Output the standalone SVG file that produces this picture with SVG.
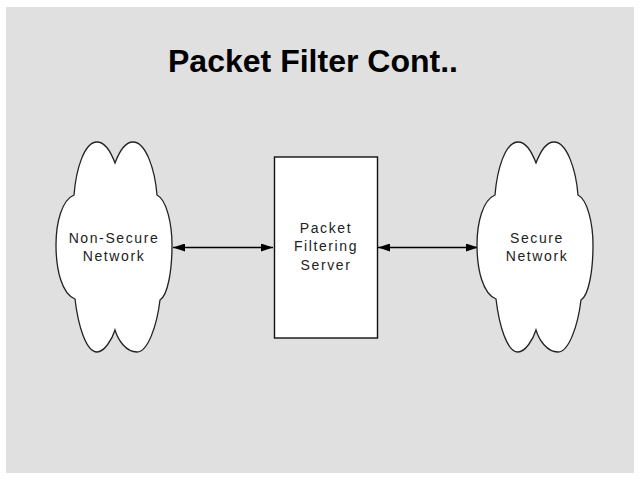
<svg xmlns="http://www.w3.org/2000/svg" width="640" height="480" viewBox="0 0 640 480">
<defs>
<style>
.lbl{font-family:"Liberation Sans",Arial,sans-serif;font-size:14px;letter-spacing:1.6px;fill:#222;text-anchor:middle}
.cloud{fill:#fff;stroke:#222;stroke-width:1.3}
.conn{stroke:#000;stroke-width:1.3;fill:none}
</style>
<marker id="ah" viewBox="0 0 12 8" refX="12" refY="4" markerWidth="12" markerHeight="8" markerUnits="userSpaceOnUse" orient="auto-start-reverse">
<path d="M0,0 L12,4 L0,8 Z" fill="#000"/>
</marker>
<path id="cloudShape" d="M74,195 C76,170 84,142 97,142 C106,142 112,155 115,163 C118,155 124,142 133,142 C146,142 155,170 157,195 C167,200 172,225 172,245 C172,270 168,295 160,300 C157,325 148,352 137,352 C126,352 118,340 115,330 C112,340 104,352 97,352 C86,352 78,325 75,299 C62,294 56,270 56,245 C56,222 62,200 74,195 Z"/>
</defs>
<rect x="0" y="0" width="640" height="480" fill="#fff"/>
<rect x="6" y="7" width="628" height="466" fill="#e0e0e0"/>
<text x="168" y="72" font-family="'Liberation Sans',Arial,sans-serif" font-weight="bold" font-size="32" fill="#000" textLength="290" lengthAdjust="spacingAndGlyphs">Packet Filter Cont..</text>
<g id="connectors">
<line class="conn" x1="173" y1="247.5" x2="273" y2="247.5" marker-start="url(#ah)" marker-end="url(#ah)"/>
<line class="conn" x1="378" y1="247.5" x2="478" y2="247.5" marker-start="url(#ah)" marker-end="url(#ah)"/>
</g>
<g id="non-secure">
<use href="#cloudShape" class="cloud"/>
<text class="lbl" x="114" y="243">Non-Secure</text>
<text class="lbl" x="114" y="261">Network</text>
</g>
<g id="server">
<rect x="274.5" y="157" width="103" height="181" fill="#fff" stroke="#111" stroke-width="1.4"/>
<text class="lbl" x="326" y="233">Packet</text>
<text class="lbl" x="326" y="251">Filtering</text>
<text class="lbl" x="326" y="270">Server</text>
</g>
<g id="secure">
<use href="#cloudShape" class="cloud" transform="translate(421,0)"/>
<text class="lbl" x="537" y="243">Secure</text>
<text class="lbl" x="537" y="261">Network</text>
</g>
</svg>
